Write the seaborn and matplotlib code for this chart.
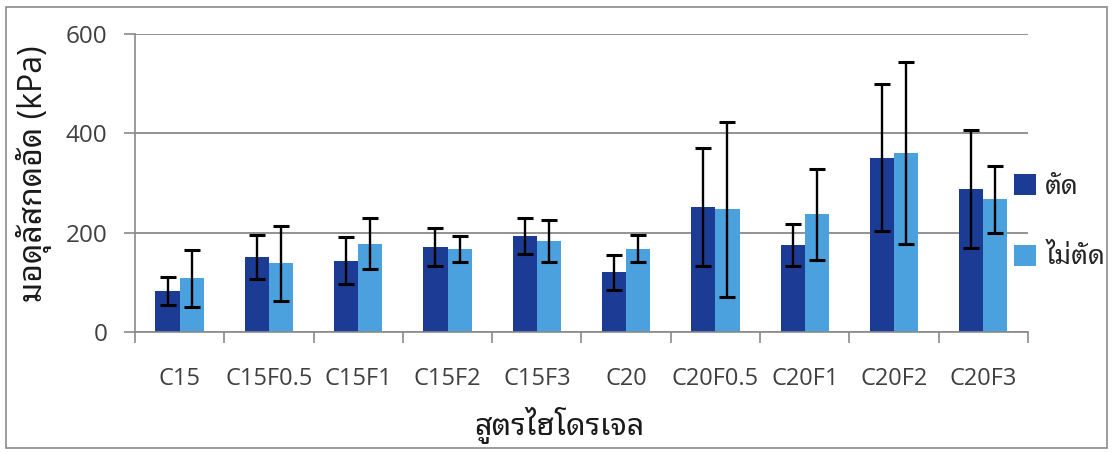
import numpy as np
import pandas as pd
import matplotlib
matplotlib.use("Agg")
import matplotlib.pyplot as plt
import seaborn as sns
from matplotlib import font_manager as fm
from matplotlib.ft2font import FT2Font
from matplotlib.patches import Patch, Rectangle

# ---------------- data ----------------
categories = ["C15", "C15F0.5", "C15F1", "C15F2", "C15F3",
              "C20", "C20F0.5", "C20F1", "C20F2", "C20F3"]
series_names = ["ตัด", "ไม่ตัด"]
cut_values = [83, 151, 144, 171, 194, 120, 252, 175, 351, 288]
cut_errors = [28, 45, 48, 38, 36, 35, 119, 43, 148, 119]
uncut_values = [108, 138, 178, 167, 184, 168, 247, 237, 361, 267]
uncut_errors = [57, 76, 51, 27, 42, 27, 176, 91, 183, 68]
y_ticks = [0, 200, 400, 600]
x_title = "สูตรไฮโดรเจล"
y_title = "มอดุลัสกดอัด (kPa)"

# ---------------- fonts ----------------
def find_thai_font():
    preferred = ["Noto Sans Thai Looped", "Noto Serif Thai", "Loma", "Garuda",
                 "Tlwg Typo", "Umpush", "Waree", "Sarabun", "TH Sarabun New",
                 "Noto Sans Thai", "Noto Sans Thai UI", "Kinnari", "Norasi"]
    found = []
    for f in fm.fontManager.ttflist:
        try:
            cmap = FT2Font(f.fname).get_charmap()
        except Exception:
            continue
        if 0x0E15 in cmap and 0x0E31 in cmap:
            found.append(f.name)
    for p in preferred:
        if p in found:
            return p
    return found[0] if found else None

thai = find_thai_font()
sns.set_theme(style="white")
fam = ["Open Sans"] + ([thai] if thai else []) + ["DejaVu Sans"]
thai_fam = ([thai] if thai else []) + ["DejaVu Sans"]
plt.rcParams["font.family"] = fam

# ---------------- frame ----------------
df = pd.DataFrame({
    "cat": categories * 2,
    "val": cut_values + uncut_values,
    "grp": [series_names[0]] * len(categories) + [series_names[1]] * len(categories),
})
errs = {series_names[0]: cut_errors, series_names[1]: uncut_errors}
colors = ["#1c3b94", "#4ba1dd"]

fig = plt.figure(figsize=(11.15, 4.53), dpi=100)
ax = fig.add_axes([0.121, 0.267, 0.801, 0.658])

sns.barplot(data=df, x="cat", y="val", hue="grp", order=categories,
            hue_order=series_names, palette=colors, errorbar=None,
            width=0.54, dodge=True, saturation=1, ax=ax, legend=False,
            linewidth=0, edgecolor="none")

for cont, name in zip(ax.containers, series_names):
    xs = [p.get_x() + p.get_width() / 2 for p in cont.patches]
    ys = [p.get_height() for p in cont.patches]
    ax.errorbar(xs, ys, yerr=errs[name], fmt="none", ecolor="black",
                elinewidth=1.7, capsize=6, capthick=2.2, zorder=5)

ax.set_ylim(0, 600)
ax.set_xlim(-0.5, len(categories) - 0.5)
ax.set_yticks(y_ticks)
ax.yaxis.grid(True, color="#7f7f7f", linewidth=1.2)
ax.set_axisbelow(True)
for s in ["top", "right"]:
    ax.spines[s].set_visible(False)
for s in ["left", "bottom"]:
    ax.spines[s].set_color("#8a8a8a")
    ax.spines[s].set_linewidth(1.2)

ax.tick_params(axis="y", which="major", length=8, width=1.2, color="#8a8a8a",
               labelsize=17.5, labelcolor="#404040", pad=12, left=True)
ax.tick_params(axis="x", which="major", length=0, labelsize=17,
               labelcolor="#404040", pad=25)
ax.set_xticks(np.arange(-0.5, len(categories), 1.0), minor=True)
ax.tick_params(axis="x", which="minor", length=8, width=1.2, color="#8a8a8a",
               direction="out", bottom=True)

ax.set_xlabel(x_title, fontsize=22, family=thai_fam, color="#1a1a1a")
ax.xaxis.set_label_coords(0.475, -0.25)
ax.set_ylabel(y_title, fontsize=23, family=fam, color="#1a1a1a")
ax.yaxis.set_label_coords(-0.093, 0.53)

handles = [Patch(facecolor=c, edgecolor="none") for c in colors]
fig.legend(handles, series_names, loc="upper left", bbox_to_anchor=(0.909, 0.618),
           frameon=False, handlelength=0.85, handleheight=0.85,
           labelspacing=1.6, handletextpad=0.35, borderpad=0, borderaxespad=0,
           prop={"family": thai_fam, "size": 19})

fig.patches.append(Rectangle((0.005, 0.012), 0.988, 0.972, transform=fig.transFigure,
                             fill=False, edgecolor="#8a8a8a", linewidth=1.2))

fig.savefig("out.png", dpi=100, facecolor="white")
